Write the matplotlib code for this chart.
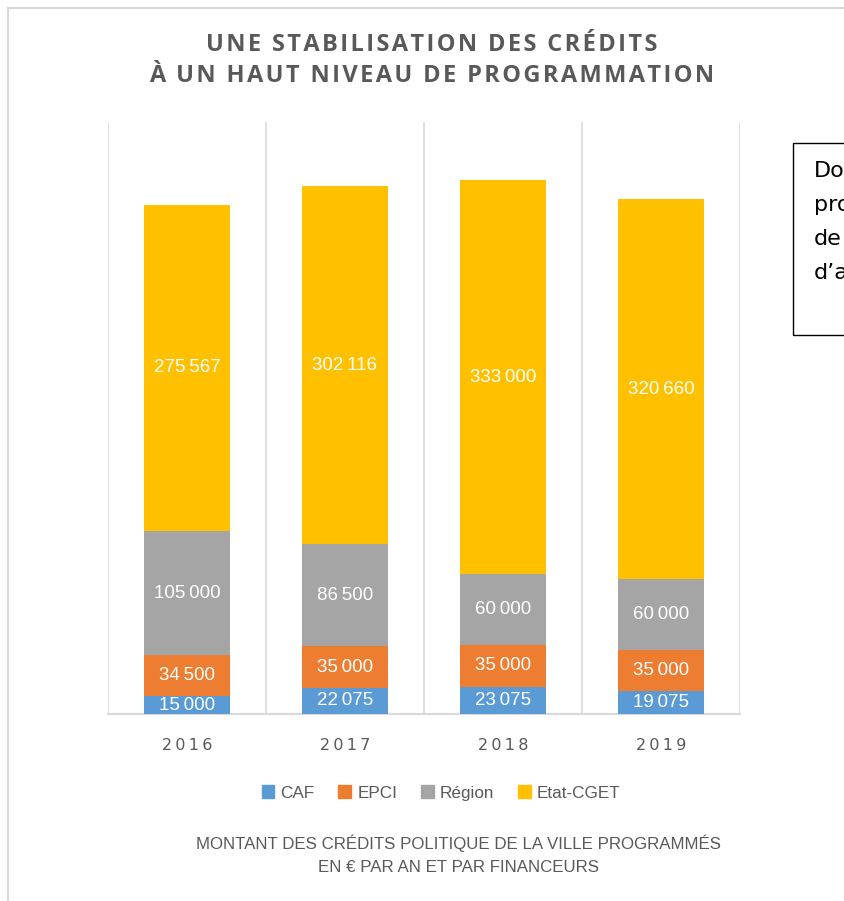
import matplotlib.pyplot as plt
import matplotlib.patches as mpatches
from matplotlib import font_manager

# Credits per year and per funder (EUR)
years = ["2016", "2017", "2018", "2019"]
caf = [15000, 22075, 23075, 19075]
epci = [34500, 35000, 35000, 35000]
region = [105000, 86500, 60000, 60000]
etat_cget = [275567, 302116, 333000, 320660]

series_names = ["CAF", "EPCI", "Région", "Etat-CGET"]
series_colors = ["#5B9BD5", "#ED7D31", "#A5A5A5", "#FFC000"]

title_lines = ["UNE STABILISATION DES CRÉDITS", "À UN HAUT NIVEAU DE PROGRAMMATION"]
footer_lines = ["MONTANT DES CRÉDITS POLITIQUE DE LA VILLE PROGRAMMÉS",
                "EN € PAR AN ET PAR FINANCEURS"]
note_lines = ["Do", "pro", "de", "d’a"]

available = {f.name for f in font_manager.fontManager.ttflist}
narrow = "Liberation Sans Narrow" if "Liberation Sans Narrow" in available else "Liberation Sans"
text_grey = "#595959"
grid_grey = "#D9D9D9"


def fmt(v):
    # French thousands separator
    return f"{v:,}".replace(",", "\u2009")


def spaced(s, sep="\u200a"):
    return sep.join(s)


fig = plt.figure(figsize=(8.45, 9.01), dpi=100)

# outer chart frame
fig.patches.append(mpatches.Rectangle((8 / 845, -0.1), 1.2, 1 - 8 / 901 + 0.1,
                                      transform=fig.transFigure, fill=False,
                                      edgecolor=grid_grey, linewidth=1.5))

ax = fig.add_axes([108 / 845, 1 - 714 / 901, (740 - 108) / 845, (714 - 122) / 901])

x = range(len(years))
bottom = [0] * len(years)
for name, vals, col in zip(series_names, [caf, epci, region, etat_cget], series_colors):
    bars = ax.bar(x, vals, width=0.55, bottom=bottom, color=col, label=name, zorder=3)
    for b, v, b0 in zip(bars, vals, bottom):
        ax.text(b.get_x() + b.get_width() / 2, b0 + v / 2, fmt(v),
                ha="center", va="center", color="white", fontsize=13.5,
                family=narrow, zorder=4)
    bottom = [b0 + v for b0, v in zip(bottom, vals)]

ax.set_xlim(-0.5, 3.5)
ax.set_ylim(0, 500000)
for xv in [-0.5, 0.5, 1.5, 2.5, 3.5]:
    ax.axvline(xv, color=grid_grey, linewidth=1.2, zorder=1)
for s in ["top", "left", "right"]:
    ax.spines[s].set_visible(False)
ax.spines["bottom"].set_color(grid_grey)
ax.spines["bottom"].set_linewidth(1.5)
ax.set_yticks([])
ax.set_xticks(list(x))
ax.set_xticklabels([spaced(y, "\u2009") for y in years], color=text_grey,
                   fontsize=11.5, family="DejaVu Sans")
ax.tick_params(axis="x", length=0, pad=17)

# title
for i, line in enumerate(title_lines):
    fig.text(432 / 845, 1 - (45 + 31 * i) / 901, spaced(line), ha="center", va="center",
             fontsize=17, fontweight="bold", color=text_grey, family="Open Sans")

# legend
handles = [mpatches.Patch(color=c, label=n) for n, c in zip(series_names, series_colors)]
fig.legend(handles=handles, loc="center", bbox_to_anchor=(441 / 845, 1 - 793 / 901),
           ncol=4, frameon=False, handlelength=0.75, handleheight=0.75,
           handletextpad=0.35, columnspacing=1.4,
           prop={"family": narrow, "size": 12.3}, labelcolor=text_grey)

# footer
for i, line in enumerate(footer_lines):
    fig.text(459 / 845, 1 - (843 + 24 * i) / 901, line, ha="center", va="center",
             fontsize=12.2, color=text_grey, family=narrow)

# side note box
fig.patches.append(mpatches.Rectangle((793 / 845, 1 - 335 / 901), 0.2, 192 / 901,
                                      transform=fig.transFigure, fill=False,
                                      edgecolor="black", linewidth=1.0))
for i, line in enumerate(note_lines):
    fig.text(814 / 845, 1 - (171 + 34 * i) / 901, line, ha="left", va="center",
             fontsize=16, color="black", family="DejaVu Sans")

fig.savefig("out.png", dpi=100)
